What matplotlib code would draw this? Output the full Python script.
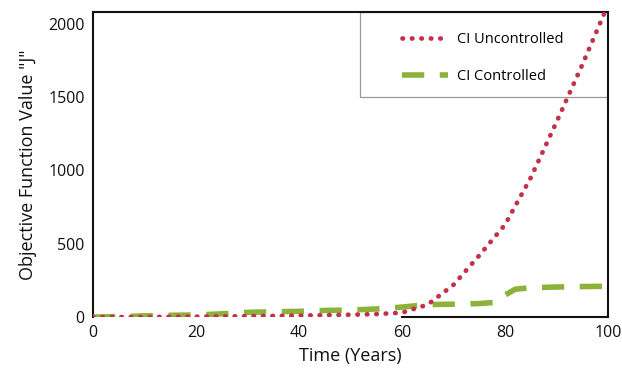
import matplotlib
matplotlib.use('Agg')
import matplotlib.pyplot as plt
from matplotlib.patches import Rectangle

# data
years = [0, 5, 10, 15, 20, 25, 30, 35, 40, 45, 50, 55, 60, 65, 70, 75, 80, 85, 90, 95, 100]
ci_uncontrolled = [0, 0, 0, 2, 3, 4, 6, 8, 10, 13, 16, 20, 30, 85, 220, 420, 630, 950, 1330, 1720, 2130]
years_ctrl = [0, 5, 10, 15, 20, 25, 30, 35, 40, 45, 50, 55, 60, 65, 70, 75, 78, 80, 82, 85, 90, 95, 100]
ci_controlled = [0, 3, 8, 12, 14, 22, 32, 36, 39, 45, 48, 55, 68, 85, 88, 92, 100, 150, 190, 200, 205, 208, 210]

plt.rcParams['font.family'] = ['Open Sans', 'DejaVu Sans']

fig = plt.figure(figsize=(6.22, 3.77), dpi=100)
ax = fig.add_axes([0.1495, 0.159, 0.828, 0.809])

# legend frame drawn under the lines
ax.add_patch(Rectangle((0.518, 0.721), 0.482, 0.279, transform=ax.transAxes,
                       facecolor='none', edgecolor='#9a9a9a', linewidth=0.9, zorder=1))

ax.plot(years_ctrl, ci_controlled, color='#8db23a', linewidth=4, linestyle=(0, (4, 2.8)),
        label='CI Controlled', zorder=3)
ax.plot(years, ci_uncontrolled, color='#c2304a', linewidth=3.4, linestyle=(0, (0.1, 1.9)),
        dash_capstyle='round', label='CI Uncontrolled', zorder=4)

ax.set_xlim(0, 100)
ax.set_ylim(0, 2080)
ax.set_xticks([0, 20, 40, 60, 80, 100])
ax.set_yticks([0, 500, 1000, 1500, 2000])
ax.tick_params(length=0, labelsize=11.5, colors='#111111', pad=6)

for s in ax.spines.values():
    s.set_linewidth(1.5)
    s.set_color('#111111')
ax.spines['bottom'].set_bounds(60, 100)

ax.set_xlabel('Time (Years)', fontsize=13, color='#111111', labelpad=4)
ax.set_ylabel('Objective Function Value "J"', fontsize=13, color='#111111', labelpad=8)

h, l = ax.get_legend_handles_labels()
ax.legend(h[::-1], l[::-1], loc='upper left', bbox_to_anchor=(0.56, 1.0), frameon=False,
          fontsize=10.5, handlelength=3.2, handletextpad=0.6, labelspacing=1.5, borderpad=0.9)

fig.savefig('out.png', dpi=100)
